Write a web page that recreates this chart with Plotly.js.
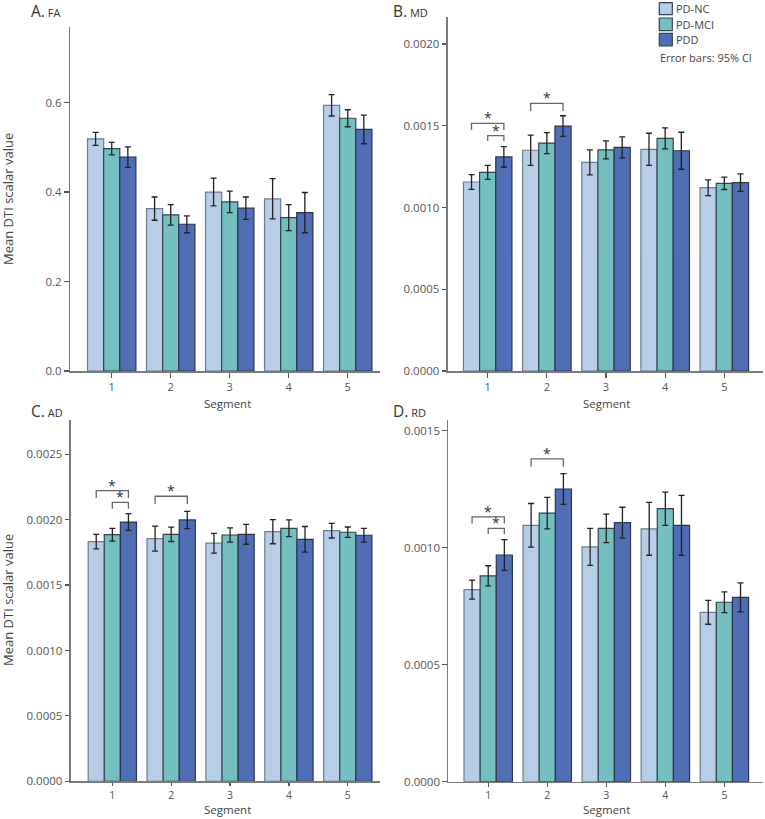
<!DOCTYPE html>
<html>
<head>
<meta charset="utf-8">
<script src="https://cdn.plot.ly/plotly-3.0.1.min.js"></script>
<style>html,body{margin:0;padding:0;background:#fff;}#chart{width:765px;height:819px;}</style>
</head>
<body>
<div id="chart"></div>
<script>
// ---------- data ----------
const segments = [1, 2, 3, 4, 5];
const groups = ['PD-NC', 'PD-MCI', 'PDD'];

const FA_NC = [0.519, 0.363, 0.400, 0.385, 0.594];
const FA_NC_err = [0.0145, 0.026, 0.031, 0.045, 0.024];
const FA_MCI = [0.497, 0.349, 0.378, 0.343, 0.565];
const FA_MCI_err = [0.014, 0.023, 0.024, 0.029, 0.019];
const FA_PDD = [0.478, 0.328, 0.364, 0.354, 0.540];
const FA_PDD_err = [0.023, 0.019, 0.025, 0.045, 0.032];

const MD_NC = [0.001156, 0.00135, 0.001276, 0.001356, 0.001121];
const MD_NC_err = [0.000045, 0.000093, 0.000076, 0.000098, 0.000048];
const MD_MCI = [0.001215, 0.001394, 0.001352, 0.001423, 0.001148];
const MD_MCI_err = [0.000043, 0.000064, 0.000055, 0.000064, 0.000038];
const MD_PDD = [0.001309, 0.001498, 0.001368, 0.001347, 0.001152];
const MD_PDD_err = [0.000063, 0.000063, 0.000064, 0.000113, 0.000053];

const AD_NC = [0.001832, 0.001855, 0.00182, 0.001908, 0.001916];
const AD_NC_err = [0.000055, 0.000096, 0.000075, 0.000092, 0.000056];
const AD_MCI = [0.001885, 0.001888, 0.001883, 0.001934, 0.001904];
const AD_MCI_err = [0.000049, 0.000055, 0.000054, 0.000064, 0.00004];
const AD_PDD = [0.001982, 0.001998, 0.001888, 0.00185, 0.001881];
const AD_PDD_err = [0.000064, 0.000066, 0.000076, 0.000098, 0.000052];

const RD_NC = [0.000821, 0.001096, 0.001004, 0.001081, 0.000724];
const RD_NC_err = [0.000041, 0.000093, 0.000079, 0.000113, 0.000051];
const RD_MCI = [0.00088, 0.001148, 0.001083, 0.001167, 0.000767];
const RD_MCI_err = [0.000043, 0.000067, 0.000061, 0.000071, 0.000044];
const RD_PDD = [0.000969, 0.001251, 0.001107, 0.001096, 0.000788];
const RD_PDD_err = [0.000066, 0.000066, 0.000066, 0.000128, 0.000062];

const panelLetters = ['A.', 'B.', 'C.', 'D.'];
const panelMeasures = ['FA', 'MD', 'AD', 'RD'];
const yTickFormats = ['.1f', '.4f', '.4f', '.4f'];
const yDticks = [0.2, 0.0005, 0.0005, 0.0005];
const yTops = [0.769, 0.002165, 0.002762, 0.001546];
const xTitle = 'Segment';
const yTitle = 'Mean DTI scalar value';

// significance brackets: panel index, segment, from group, to group, bracket level, leg end
const sigPanel = [1, 1, 1, 2, 2, 2, 3, 3, 3];
const sigSegment = [1, 1, 2, 1, 1, 2, 1, 1, 2];
const sigFrom = [0, 1, 0, 0, 1, 0, 0, 1, 0];
const sigTo = [2, 2, 2, 2, 2, 2, 2, 2, 2];
const sigTop = [0.001515, 0.001439, 0.001637, 0.002222, 0.002133, 0.002179, 0.001132, 0.001083, 0.00138];
const sigLeg = [0.001474, 0.001407, 0.00159, 0.002166, 0.002084, 0.00212, 0.001104, 0.001059, 0.001346];

const legendNote = 'Error bars: 95% CI';

// ---------- style ----------
const W = 765, H = 819;
const FONT = 'Open Sans, Noto Sans, sans-serif';
const fillColors = ['#b8cee8', '#74c0c0', '#4f6eb5'];
const lineColors = ['#6f7c88', '#33414c', '#2c3544'];
const bargap = 0.18;
const barW = (1 - bargap) / 3;

const px = x => x / W;
const py = y => 1 - y / H;

const panelData = [
  [[FA_NC, FA_NC_err], [FA_MCI, FA_MCI_err], [FA_PDD, FA_PDD_err]],
  [[MD_NC, MD_NC_err], [MD_MCI, MD_MCI_err], [MD_PDD, MD_PDD_err]],
  [[AD_NC, AD_NC_err], [AD_MCI, AD_MCI_err], [AD_PDD, AD_PDD_err]],
  [[RD_NC, RD_NC_err], [RD_MCI, RD_MCI_err], [RD_PDD, RD_PDD_err]]
];

const xDomains = [[70, 380], [447.7, 763], [70.7, 380], [448.3, 763]];
const yDomains = [[27, 371], [17, 371], [420, 781.3], [420, 781.7]];
const xRanges = [[0.293, 5.547], [0.324, 5.654], [0.293, 5.547], [0.324, 5.654]];
const xTickLens = [5, 5, 3.5, 3.5];
const xTickSizes = [11, 11, 10.5, 10.5];
const labelPos = [[29, 11.5], [391, 11.5], [29, 411], [391, 411]];
const xTitlePos = [[227.5, 412.5], [606, 412.5], [227.5, 819], [606, 819]];

const traces = [];
panelData.forEach((pd, p) => {
  const sfx = p === 0 ? '' : String(p + 1);
  pd.forEach((g, gi) => {
    traces.push({
      type: 'bar',
      name: groups[gi],
      x: segments,
      y: g[0],
      xaxis: 'x' + sfx,
      yaxis: 'y' + sfx,
      showlegend: false,
      marker: {color: fillColors[gi], line: {color: lineColors[gi], width: 1.2}},
      error_y: {type: 'data', array: g[1], visible: true, color: '#222', thickness: 1.3, width: 3},
      hoverinfo: 'skip'
    });
  });
});

const layout = {
  width: W, height: H,
  margin: {l: 0, r: 0, t: 0, b: 0},
  paper_bgcolor: '#fff', plot_bgcolor: 'rgba(0,0,0,0)',
  barmode: 'group', bargap: bargap, bargroupgap: 0,
  font: {family: FONT, color: '#333'},
  showlegend: false,
  shapes: [], annotations: []
};

for (let p = 0; p < 4; p++) {
  const sfx = p === 0 ? '' : String(p + 1);
  layout['xaxis' + sfx] = {
    domain: [px(xDomains[p][0]), px(xDomains[p][1])],
    anchor: 'y' + sfx,
    range: xRanges[p],
    tickvals: segments,
    ticktext: segments.map(String),
    showline: true, linecolor: '#7a7a7a', linewidth: 1.5,
    ticks: 'outside', ticklen: xTickLens[p], tickwidth: 1.2, tickcolor: '#555',
    showgrid: false, zeroline: false,
    tickfont: {family: FONT, size: xTickSizes[p], color: '#555'}
  };
  layout['yaxis' + sfx] = {
    domain: [py(yDomains[p][1]), py(yDomains[p][0])],
    anchor: 'x' + sfx,
    range: [0, yTops[p]],
    dtick: yDticks[p], tick0: 0,
    tickformat: yTickFormats[p],
    showline: true, linecolor: '#7a7a7a', linewidth: 1.5,
    ticks: 'outside', ticklen: 4.5, tickwidth: 1.2, tickcolor: '#555',
    showgrid: false, zeroline: false,
    tickfont: {family: FONT, size: 11.5, color: '#555'}
  };
  layout.annotations.push({
    xref: 'paper', yref: 'paper',
    x: px(labelPos[p][0]), y: py(labelPos[p][1]),
    xanchor: 'left', yanchor: 'middle', showarrow: false,
    text: panelLetters[p] + '<span style="font-size:11px"> ' + panelMeasures[p] + '</span>',
    font: {family: FONT, size: 15.5, color: '#333'}
  });
  layout.annotations.push({
    xref: 'paper', yref: 'paper',
    x: px(xTitlePos[p][0]), y: py(xTitlePos[p][1]),
    xanchor: 'center', yanchor: 'bottom', showarrow: false,
    text: xTitle, font: {family: FONT, size: 11.5, color: '#444'}
  });
}

// y-axis titles for left panels
[[0, 199], [2, 600]].forEach(([p, yc]) => {
  layout.annotations.push({
    xref: 'paper', yref: 'paper', x: px(8), y: py(yc),
    xanchor: 'center', yanchor: 'middle', showarrow: false, textangle: -90,
    text: yTitle,
    font: {family: FONT, size: 13, color: '#444'}
  });
});

// significance brackets
for (let i = 0; i < sigPanel.length; i++) {
  const p = sigPanel[i];
  const sfx = p === 0 ? '' : String(p + 1);
  const x0 = sigSegment[i] + (sigFrom[i] - 1) * barW;
  const x1 = sigSegment[i] + (sigTo[i] - 1) * barW;
  layout.shapes.push({
    type: 'path', xref: 'x' + sfx, yref: 'y' + sfx,
    path: `M${x0},${sigLeg[i]} L${x0},${sigTop[i]} L${x1},${sigTop[i]} L${x1},${sigLeg[i]}`,
    line: {color: '#666', width: 1.3}
  });
  layout.annotations.push({
    xref: 'x' + sfx, yref: 'y' + sfx, x: (x0 + x1) / 2, y: sigTop[i],
    xanchor: 'center', yanchor: 'bottom', yshift: -6, showarrow: false,
    text: '*', font: {family: FONT, size: 14, color: '#333'}
  });
}

// legend (manual, in panel B corner)
const legRows = [[2.7, 14.7], [18, 30.7], [33.3, 46]];
groups.forEach((g, gi) => {
  layout.shapes.push({
    type: 'rect', xref: 'paper', yref: 'paper',
    x0: px(659.3), x1: px(672.3), y0: py(legRows[gi][1]), y1: py(legRows[gi][0]),
    fillcolor: fillColors[gi], line: {color: '#33414c', width: 1.2}
  });
  layout.annotations.push({
    xref: 'paper', yref: 'paper', x: px(674), y: py((legRows[gi][0] + legRows[gi][1]) / 2),
    xanchor: 'left', yanchor: 'middle', showarrow: false,
    text: g, font: {family: FONT, size: 11, color: '#444'}
  });
});
layout.annotations.push({
  xref: 'paper', yref: 'paper', x: px(658), y: py(57.7),
  xanchor: 'left', yanchor: 'middle', showarrow: false,
  text: legendNote, font: {family: FONT, size: 11, color: '#444'}
});

Plotly.newPlot('chart', traces, layout, {staticPlot: true, displayModeBar: false});
</script>
</body>
</html>
